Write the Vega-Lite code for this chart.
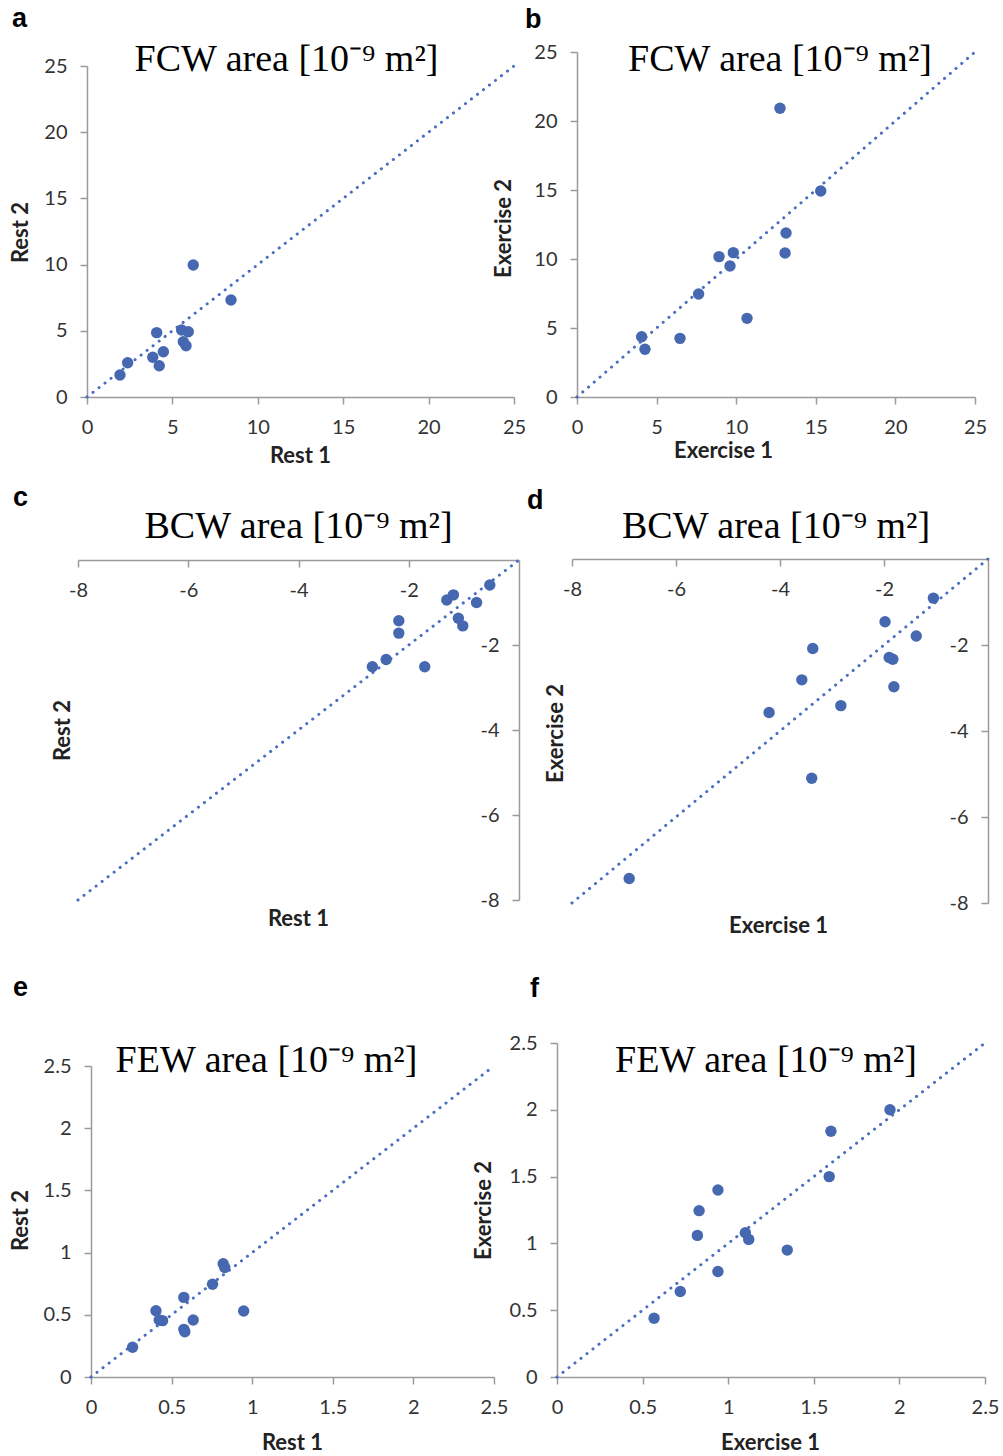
{
  "$schema": "https://vega.github.io/schema/vega-lite/v6.json",
  "padding": 0,
  "background": "white",
  "spacing": 0,
  "bounds": "flush",
  "datasets": {
    "diag25": [{"x": 0, "y": 0}, {"x": 25, "y": 25}],
    "diagNeg": [{"x": -8, "y": -8}, {"x": 0, "y": 0}],
    "diag25s": [{"x": 0, "y": 0}, {"x": 2.5, "y": 2.5}],
    "a": [
      {"x": 6.22, "y": 9.97}, {"x": 8.43, "y": 7.33}, {"x": 4.08, "y": 4.86}, {"x": 5.54, "y": 5.06},
      {"x": 5.93, "y": 4.93}, {"x": 5.64, "y": 4.18}, {"x": 5.8, "y": 3.87}, {"x": 4.47, "y": 3.42},
      {"x": 3.85, "y": 3.0}, {"x": 4.23, "y": 2.36}, {"x": 2.38, "y": 2.59}, {"x": 1.93, "y": 1.66}
    ],
    "b": [
      {"x": 12.75, "y": 20.92}, {"x": 15.31, "y": 14.93}, {"x": 13.13, "y": 11.88}, {"x": 13.07, "y": 10.43},
      {"x": 8.92, "y": 10.17}, {"x": 9.82, "y": 10.46}, {"x": 9.61, "y": 9.49}, {"x": 7.64, "y": 7.46},
      {"x": 10.68, "y": 5.7}, {"x": 6.47, "y": 4.25}, {"x": 4.06, "y": 4.37}, {"x": 4.27, "y": 3.46}
    ],
    "c": [
      {"x": -0.53, "y": -0.59}, {"x": -1.19, "y": -0.82}, {"x": -1.31, "y": -0.94}, {"x": -0.77, "y": -1.0},
      {"x": -1.1, "y": -1.37}, {"x": -1.02, "y": -1.55}, {"x": -2.18, "y": -1.43}, {"x": -2.18, "y": -1.72},
      {"x": -2.41, "y": -2.34}, {"x": -2.66, "y": -2.51}, {"x": -1.71, "y": -2.51}
    ],
    "d": [
      {"x": -1.05, "y": -0.91}, {"x": -1.98, "y": -1.46}, {"x": -1.38, "y": -1.79}, {"x": -3.37, "y": -2.08},
      {"x": -1.9, "y": -2.29}, {"x": -1.83, "y": -2.33}, {"x": -3.58, "y": -2.81}, {"x": -1.81, "y": -2.97},
      {"x": -2.83, "y": -3.41}, {"x": -4.21, "y": -3.57}, {"x": -3.39, "y": -5.1}, {"x": -6.9, "y": -7.43}
    ],
    "e": [
      {"x": 0.82, "y": 0.91}, {"x": 0.83, "y": 0.88}, {"x": 0.754, "y": 0.745}, {"x": 0.576, "y": 0.64},
      {"x": 0.403, "y": 0.533}, {"x": 0.947, "y": 0.53}, {"x": 0.423, "y": 0.458}, {"x": 0.444, "y": 0.453},
      {"x": 0.634, "y": 0.458}, {"x": 0.576, "y": 0.383}, {"x": 0.582, "y": 0.364}, {"x": 0.258, "y": 0.239}
    ],
    "f": [
      {"x": 1.945, "y": 2.0}, {"x": 1.6, "y": 1.84}, {"x": 1.59, "y": 1.5}, {"x": 0.94, "y": 1.4},
      {"x": 0.83, "y": 1.245}, {"x": 0.82, "y": 1.06}, {"x": 1.1, "y": 1.08}, {"x": 1.12, "y": 1.03},
      {"x": 1.345, "y": 0.95}, {"x": 0.94, "y": 0.79}, {"x": 0.72, "y": 0.64}, {"x": 0.567, "y": 0.44}
    ]
  },
  "vconcat": [
    {"width": 1, "height": 52, "data": {"values": []}, "mark": "point"},
    {
      "hconcat": [
        {"width": 87, "height": 1, "data": {"values": []}, "mark": "point"},
        {
          "vconcat": [
            {"width": 1, "height": 14, "data": {"values": []}, "mark": "point"},
            {
              "width": 427, "height": 331,
              "title": {"text": "FCW area [10⁻⁹ m²]", "dx": -14, "offset": -23},
              "encoding": {
                "x": {"field": "x", "type": "quantitative", "scale": {"domain": [0, 25], "nice": false, "zero": false},
                      "axis": {"values": [0, 5, 10, 15, 20, 25], "title": "Rest 1", "titleX": 213, "titleY": 58}},
                "y": {"field": "y", "type": "quantitative", "scale": {"domain": [0, 25], "nice": false, "zero": false},
                      "axis": {"values": [0, 5, 10, 15, 20, 25], "title": "Rest 2", "titleX": -67, "titleY": 166}}
              },
              "layer": [
                {"data": {"name": "diag25"}, "mark": {"type": "line", "color": "#4A6EC0", "strokeWidth": 3, "strokeDash": [0.1, 7.5], "strokeCap": "round"}},
                {"data": {"name": "a"}, "mark": {"type": "circle", "size": 130, "color": "#4668B0", "opacity": 1}}
              ]
            }
          ],
          "spacing": 0, "bounds": "flush",
          "title": {"text": "a", "frame": "group", "anchor": "start", "dx": -75, "offset": 8, "font": "Liberation Sans", "fontSize": 27, "fontWeight": "bold", "color": "#000000"}
        },
        {"width": 490, "height": 1, "data": {"values": []}, "mark": "point"},
        {
          "vconcat": [
            {
              "width": 398, "height": 345,
              "title": {"text": "FCW area [10⁻⁹ m²]", "dx": 4, "offset": -37},
              "encoding": {
                "x": {"field": "x", "type": "quantitative", "scale": {"domain": [0, 25], "nice": false, "zero": false},
                      "axis": {"values": [0, 5, 10, 15, 20, 25], "title": "Exercise 1", "titleX": 146, "titleY": 53}},
                "y": {"field": "y", "type": "quantitative", "scale": {"domain": [0, 25], "nice": false, "zero": false},
                      "axis": {"values": [0, 5, 10, 15, 20, 25], "title": "Exercise 2", "titleX": -74, "titleY": 176}}
              },
              "layer": [
                {"data": {"name": "diag25"}, "mark": {"type": "line", "color": "#4A6EC0", "strokeWidth": 3, "strokeDash": [0.1, 7.5], "strokeCap": "round"}},
                {"data": {"name": "b"}, "mark": {"type": "circle", "size": 130, "color": "#4668B0", "opacity": 1}}
              ]
            }
          ],
          "spacing": 0, "bounds": "flush",
          "title": {"text": "b", "frame": "group", "anchor": "start", "dx": -52, "offset": 7, "font": "Liberation Sans", "fontSize": 27, "fontWeight": "bold", "color": "#000000"}
        }
      ],
      "spacing": 0, "bounds": "flush"
    },
    {"width": 1, "height": 507, "data": {"values": []}, "mark": "point"},
    {
      "hconcat": [
        {"width": 78, "height": 1, "data": {"values": []}, "mark": "point"},
        {
          "vconcat": [
            {"width": 1, "height": 1, "data": {"values": []}, "mark": "point"},
            {
              "width": 441, "height": 340,
              "title": {"text": "BCW area [10⁻⁹ m²]", "dx": 0, "offset": 8},
              "encoding": {
                "x": {"field": "x", "type": "quantitative", "scale": {"domain": [-8, 0], "nice": false, "zero": false},
                      "axis": {"orient": "bottom", "offset": -340, "values": [-8, -6, -4, -2], "labelExpr": "datum.value + ''", "title": "Rest 1", "titleX": 220, "titleY": 358}},
                "y": {"field": "y", "type": "quantitative", "scale": {"domain": [-8, 0], "nice": false, "zero": false},
                      "axis": {"orient": "left", "offset": -441, "values": [-8, -6, -4, -2], "labelExpr": "datum.value + ''", "title": "Rest 2", "titleX": -457, "titleY": 170}}
              },
              "layer": [
                {"data": {"name": "diagNeg"}, "mark": {"type": "line", "color": "#4A6EC0", "strokeWidth": 3, "strokeDash": [0.1, 7.5], "strokeCap": "round"}},
                {"data": {"name": "c"}, "mark": {"type": "circle", "size": 130, "color": "#4668B0", "opacity": 1}}
              ]
            }
          ],
          "spacing": 0, "bounds": "flush",
          "title": {"text": "c", "frame": "group", "anchor": "start", "dx": -65, "offset": -4, "font": "Liberation Sans", "fontSize": 27, "fontWeight": "bold", "color": "#000000"}
        },
        {"width": 494, "height": 1, "data": {"values": []}, "mark": "point"},
        {
          "vconcat": [
            {
              "width": 416, "height": 344,
              "title": {"text": "BCW area [10⁻⁹ m²]", "dx": -4, "offset": 7},
              "encoding": {
                "x": {"field": "x", "type": "quantitative", "scale": {"domain": [-8, 0], "nice": false, "zero": false},
                      "axis": {"orient": "bottom", "offset": -344, "values": [-8, -6, -4, -2], "labelExpr": "datum.value + ''", "title": "Exercise 1", "titleX": 206, "titleY": 366}},
                "y": {"field": "y", "type": "quantitative", "scale": {"domain": [-8, 0], "nice": false, "zero": false},
                      "axis": {"orient": "left", "offset": -416, "values": [-8, -6, -4, -2], "labelExpr": "datum.value + ''", "title": "Exercise 2", "titleX": -433, "titleY": 174}}
              },
              "layer": [
                {"data": {"name": "diagNeg"}, "mark": {"type": "line", "color": "#4A6EC0", "strokeWidth": 3, "strokeDash": [0.1, 7.5], "strokeCap": "round"}},
                {"data": {"name": "d"}, "mark": {"type": "circle", "size": 130, "color": "#4668B0", "opacity": 1}}
              ]
            }
          ],
          "spacing": 0, "bounds": "flush",
          "title": {"text": "d", "frame": "group", "anchor": "start", "dx": -45, "offset": -7, "font": "Liberation Sans", "fontSize": 27, "fontWeight": "bold", "color": "#000000"}
        }
      ],
      "spacing": 0, "bounds": "flush"
    },
    {"width": 1, "height": 484, "data": {"values": []}, "mark": "point"},
    {
      "hconcat": [
        {"width": 91, "height": 1, "data": {"values": []}, "mark": "point"},
        {
          "vconcat": [
            {"width": 1, "height": 23, "data": {"values": []}, "mark": "point"},
            {
              "width": 403, "height": 311,
              "title": {"text": "FEW area [10⁻⁹ m²]", "dx": -26, "offset": -24},
              "encoding": {
                "x": {"field": "x", "type": "quantitative", "scale": {"domain": [0, 2.5], "nice": false, "zero": false},
                      "axis": {"values": [0, 0.5, 1, 1.5, 2, 2.5], "format": "~g", "title": "Rest 1", "titleX": 201, "titleY": 65}},
                "y": {"field": "y", "type": "quantitative", "scale": {"domain": [0, 2.5], "nice": false, "zero": false},
                      "axis": {"values": [0, 0.5, 1, 1.5, 2, 2.5], "format": "~g", "title": "Rest 2", "titleX": -71, "titleY": 154}}
              },
              "layer": [
                {"data": {"name": "diag25s"}, "mark": {"type": "line", "color": "#4A6EC0", "strokeWidth": 3, "strokeDash": [0.1, 7.5], "strokeCap": "round"}},
                {"data": {"name": "e"}, "mark": {"type": "circle", "size": 130, "color": "#4668B0", "opacity": 1}}
              ]
            }
          ],
          "spacing": 0, "bounds": "flush",
          "title": {"text": "e", "frame": "group", "anchor": "start", "dx": -78, "offset": 40, "font": "Liberation Sans", "fontSize": 27, "fontWeight": "bold", "color": "#000000"}
        },
        {"width": 466, "height": 1, "data": {"values": []}, "mark": "point"},
        {
          "vconcat": [
            {
              "width": 428, "height": 334,
              "title": {"text": "FEW area [10⁻⁹ m²]", "dx": -5, "offset": -47},
              "encoding": {
                "x": {"field": "x", "type": "quantitative", "scale": {"domain": [0, 2.5], "nice": false, "zero": false},
                      "axis": {"values": [0, 0.5, 1, 1.5, 2, 2.5], "format": "~g", "title": "Exercise 1", "titleX": 213, "titleY": 65}},
                "y": {"field": "y", "type": "quantitative", "scale": {"domain": [0, 2.5], "nice": false, "zero": false},
                      "axis": {"values": [0, 0.5, 1, 1.5, 2, 2.5], "format": "~g", "title": "Exercise 2", "titleX": -74, "titleY": 167}}
              },
              "layer": [
                {"data": {"name": "diag25s"}, "mark": {"type": "line", "color": "#4A6EC0", "strokeWidth": 3, "strokeDash": [0.1, 7.5], "strokeCap": "round"}},
                {"data": {"name": "f"}, "mark": {"type": "circle", "size": 130, "color": "#4668B0", "opacity": 1}}
              ]
            }
          ],
          "spacing": 0, "bounds": "flush",
          "title": {"text": "f", "frame": "group", "anchor": "start", "dx": -27, "offset": 30, "font": "Liberation Sans", "fontSize": 27, "fontWeight": "bold", "color": "#000000"}
        }
      ],
      "spacing": 0, "bounds": "flush"
    }
  ],
  "config": {
    "view": {"stroke": null},
    "axis": {
      "grid": false,
      "domainColor": "#9a9a9a", "domainWidth": 1.5,
      "tickColor": "#9a9a9a", "tickWidth": 1.5, "tickSize": 7,
      "labelFont": "Lato", "labelFontSize": 20, "labelColor": "#333333", "labelPadding": 13,
      "labelFlush": false, "labelOverlap": false,
      "titleFont": "Lato", "titleFontSize": 22, "titleFontWeight": "bold", "titleColor": "#222222",
      "titleAlign": "center", "titleBaseline": "middle"
    },
    "title": {"font": "Liberation Serif", "fontSize": 38, "fontWeight": "normal", "color": "#000000", "frame": "group", "anchor": "middle"}
  }
}
